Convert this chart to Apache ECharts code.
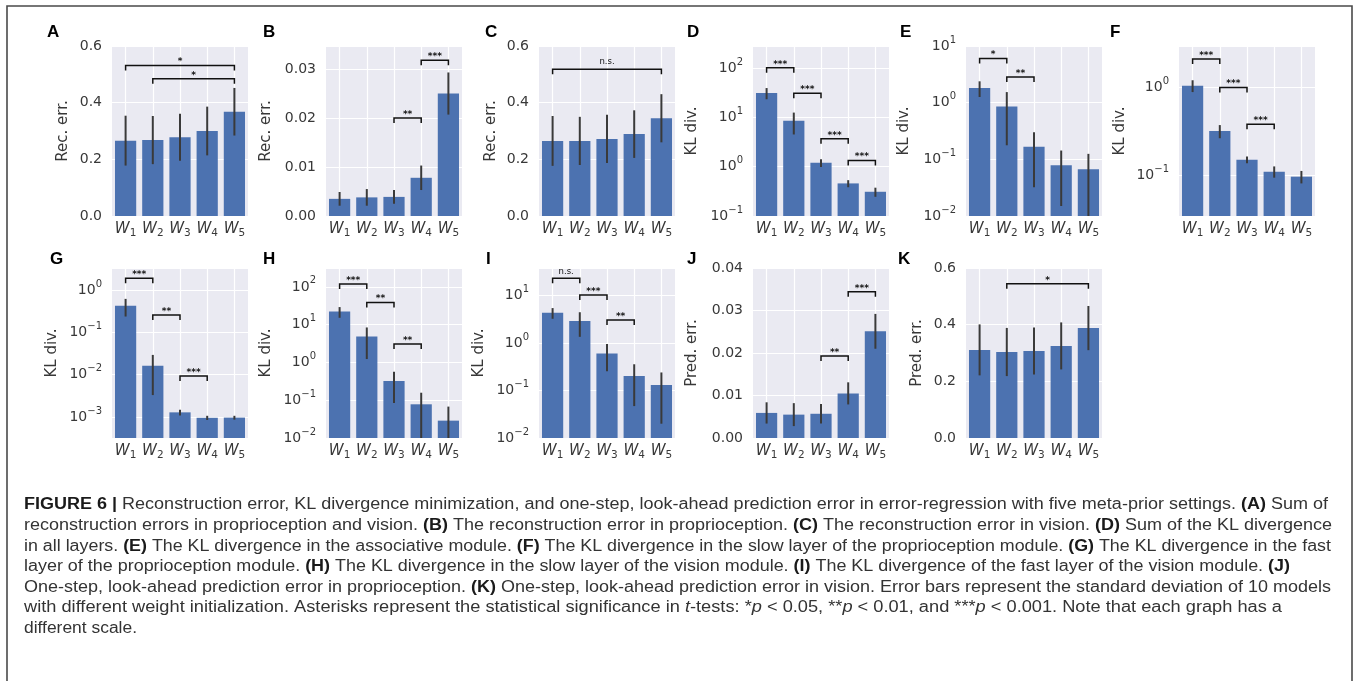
<!DOCTYPE html>
<html><head><meta charset="utf-8">
<script src="https://cdn.jsdelivr.net/npm/echarts@6/dist/echarts.min.js"></script>
<style>html,body{margin:0;padding:0;background:#fff}#c{width:1360px;height:681px}</style>
</head><body><div id="c"></div>
<script>
// ---------------- data ----------------
const categories = ['W1', 'W2', 'W3', 'W4', 'W5'];

const recErrAllMean  = [0.266, 0.268, 0.278, 0.300, 0.368];
const recErrAllSd    = [0.088, 0.085, 0.083, 0.086, 0.084];
const recErrPropMean = [0.0035, 0.0038, 0.0039, 0.0078, 0.0250];
const recErrPropSd   = [0.0014, 0.0017, 0.0014, 0.0025, 0.0043];
const recErrVisMean  = [0.265, 0.265, 0.272, 0.289, 0.345];
const recErrVisSd    = [0.088, 0.085, 0.085, 0.084, 0.085];
const klAllMean      = [31.3, 8.5, 1.2, 0.458, 0.31];
const klAllSd        = [8, 4, 0.22, 0.075, 0.065];
const klAssocMean    = [1.82, 0.857, 0.167, 0.079, 0.067];
const klAssocSd      = [0.56, 0.68, 0.135, 0.064, 0.058];
const klPropSlowMean = [1.04, 0.316, 0.149, 0.109, 0.0955];
const klPropSlowSd   = [0.16, 0.054, 0.013, 0.016, 0.0155];
const klPropFastMean = [0.426, 0.0163, 0.00129, 0.00096, 0.00097];
const klPropFastSd   = [0.19, 0.013, 0.0002, 0.00011, 0.0001];
const klVisSlowMean  = [22.2, 4.83, 0.324, 0.078, 0.0288];
const klVisSlowSd    = [7, 3.6, 0.24, 0.08, 0.039];
const klVisFastMean  = [4.34, 2.9, 0.605, 0.202, 0.13];
const klVisFastSd    = [1.1, 1.55, 0.35, 0.155, 0.11];
const predErrPropMean = [0.0059, 0.0055, 0.0057, 0.0105, 0.0251];
const predErrPropSd   = [0.0025, 0.0027, 0.0023, 0.0026, 0.0041];
const predErrVisMean  = [0.311, 0.3035, 0.307, 0.325, 0.388];
const predErrVisSd    = [0.09, 0.085, 0.083, 0.083, 0.078];

// significance brackets: [from index, to index, label, bracket level]
const sigA = [[0, 4, '*', 0.531], [1, 4, '*', 0.484]];
const sigB = [[2, 3, '**', 0.0200], [3, 4, '***', 0.0318]];
const sigC = [[0, 4, 'n.s.', 0.518]];
const sigD = [[0, 1, '***', 101], [1, 2, '***', 30.8], [2, 3, '***', 3.70], [3, 4, '***', 1.33]];
const sigE = [[0, 1, '*', 6.0], [1, 2, '**', 2.85]];
const sigF = [[0, 1, '***', 2.10], [1, 2, '***', 0.99], [2, 3, '***', 0.377]];
const sigG = [[0, 1, '***', 1.89], [1, 2, '**', 0.257], [2, 3, '***', 0.0093]];
const sigH = [[0, 1, '***', 120], [1, 2, '**', 38.4], [2, 3, '**', 3.09]];
const sigI = [[0, 1, 'n.s.', 23], [1, 2, '***', 10.3], [2, 3, '**', 3.05]];
const sigJ = [[2, 3, '**', 0.0193], [3, 4, '***', 0.0344]];
const sigK = [[1, 4, '*', 0.544]];

const linearTickLabelsA = ['0.0', '0.2', '0.4', '0.6'];

// ---------------- layout ----------------
const colLeft = [112, 326, 539, 753, 966, 1179];
const rowTop = [46, 268];
const PW = 136, PH = 170;

const panels = [
  {letter: 'A', lx: 47,  col: 0, row: 0, mean: recErrAllMean, sd: recErrAllSd, sig: sigA, log: false, min: 0, max: 0.6, interval: 0.2, dec: 1, name: 'Rec. err.', gap: 41},
  {letter: 'B', lx: 263, col: 1, row: 0, mean: recErrPropMean, sd: recErrPropSd, sig: sigB, log: false, min: 0, max: 0.0347, interval: 0.01, dec: 2, name: 'Rec. err.', gap: 52},
  {letter: 'C', lx: 485, col: 2, row: 0, mean: recErrVisMean, sd: recErrVisSd, sig: sigC, log: false, min: 0, max: 0.6, interval: 0.2, dec: 1, name: 'Rec. err.', gap: 40},
  {letter: 'D', lx: 687, col: 3, row: 0, mean: klAllMean, sd: klAllSd, sig: sigD, log: true, min: 0.1, max: 280, name: 'KL div.', gap: 53},
  {letter: 'E', lx: 900, col: 4, row: 0, mean: klAssocMean, sd: klAssocSd, sig: sigE, log: true, min: 0.01, max: 10, name: 'KL div.', gap: 54},
  {letter: 'F', lx: 1110, col: 5, row: 0, mean: klPropSlowMean, sd: klPropSlowSd, sig: sigF, log: true, min: 0.034, max: 2.95, name: 'KL div.', gap: 51},
  {letter: 'G', lx: 50,  col: 0, row: 1, mean: klPropFastMean, sd: klPropFastSd, sig: sigG, log: true, min: 0.00032, max: 3.3, name: 'KL div.', gap: 52},
  {letter: 'H', lx: 263, col: 1, row: 1, mean: klVisSlowMean, sd: klVisSlowSd, sig: sigH, log: true, min: 0.01, max: 316, name: 'KL div.', gap: 52},
  {letter: 'I', lx: 486, col: 2, row: 1, mean: klVisFastMean, sd: klVisFastSd, sig: sigI, log: true, min: 0.01, max: 38, name: 'KL div.', gap: 52},
  {letter: 'J', lx: 687, col: 3, row: 1, mean: predErrPropMean, sd: predErrPropSd, sig: sigJ, log: false, min: 0, max: 0.04, interval: 0.01, dec: 2, name: 'Pred. err.', gap: 53},
  {letter: 'K', lx: 898, col: 4, row: 1, mean: predErrVisMean, sd: predErrVisSd, sig: sigK, log: false, min: 0, max: 0.6, interval: 0.2, dec: 1, name: 'Pred. err.', gap: 41}
];

const UI = 'DejaVu Sans';
const TXT = '#383838';
const BAR = '#4C72B0';
const BG = '#EAEAF2';

const grids = [], xAxes = [], yAxes = [], series = [], graphics = [];

panels.forEach((p, i) => {
  grids.push({left: colLeft[p.col], top: rowTop[p.row], width: PW, height: PH,
    show: true, backgroundColor: BG, borderWidth: 0});
  xAxes.push({
    gridIndex: i, type: 'category', data: categories, boundaryGap: true,
    axisLine: {show: false}, axisTick: {show: false},
    splitLine: {show: true, alignWithLabel: true, lineStyle: {color: '#ffffff', width: 1.2}},
    axisLabel: {
      margin: 3, interval: 0,
      formatter: v => '{w|W}{s|' + v.slice(1) + '}',
      rich: {
        w: {fontStyle: 'italic', fontSize: 15, fontFamily: UI, color: TXT, lineHeight: 20},
        s: {fontSize: 10.5, fontFamily: UI, color: TXT, lineHeight: 12, verticalAlign: 'bottom'}
      }
    }
  });
  const y = {
    gridIndex: i, type: p.log ? 'log' : 'value', min: p.min, max: p.max,
    axisLine: {show: false}, axisTick: {show: false},
    splitLine: {show: true, lineStyle: {color: '#ffffff', width: 1.2}},
    name: p.name, nameLocation: 'middle', nameGap: p.gap,
    nameTextStyle: {fontSize: 15, fontFamily: UI, color: TXT},
    axisLabel: {margin: 10, fontSize: 14, fontFamily: UI, color: TXT}
  };
  if (p.log) {
    y.logBase = 10;
    y.axisLabel.formatter = v => {
      const e = Math.log10(v), r = Math.round(e);
      if (Math.abs(e - r) > 0.02) return '';
      return '{m|10}{p|' + (r < 0 ? '\u2212' + (-r) : r) + '}';
    };
    y.axisLabel.rich = {
      m: {fontSize: 14, fontFamily: UI, color: TXT, lineHeight: 22},
      p: {fontSize: 10, fontFamily: UI, color: TXT, lineHeight: 12, verticalAlign: 'top'}
    };
  } else {
    y.interval = p.interval;
    y.axisLabel.formatter = v => {
      const q = v / p.interval;
      return Math.abs(q - Math.round(q)) < 1e-6 ? v.toFixed(p.dec) : '';
    };
  }
  yAxes.push(y);

  // bars + error bars
  series.push({
    type: 'custom', xAxisIndex: i, yAxisIndex: i, z: 3,
    data: p.mean.map((m, k) => [k, m, p.sd[k]]),
    encode: {x: 0, y: 1},
    renderItem: (params, api) => {
      const k = api.value(0), m = api.value(1), s = api.value(2);
      const top = api.coord([k, m]);
      const base = api.coord([k, p.min]);
      const bw = api.size([1, 0])[0] * 0.78;
      const hi = api.coord([k, Math.min(m + s, p.max)]);
      const lo = api.coord([k, Math.max(m - s, p.min)]);
      return {type: 'group', children: [
        {type: 'rect', shape: {x: top[0] - bw / 2, y: top[1], width: bw, height: base[1] - top[1]},
          style: {fill: BAR}},
        {type: 'line', shape: {x1: hi[0], y1: hi[1], x2: lo[0], y2: lo[1]},
          style: {stroke: '#3a3a3a', lineWidth: 2}}
      ]};
    }
  });

  // significance brackets
  series.push({
    type: 'custom', xAxisIndex: i, yAxisIndex: i, z: 4,
    data: p.sig.map(s => [s[0], s[3], s[1]]),
    encode: {x: 0, y: 1},
    renderItem: (params, api) => {
      const s = p.sig[params.dataIndex];
      const a = api.coord([s[0], s[3]]);
      const b = api.coord([s[1], s[3]]);
      const isNs = s[2] === 'n.s.';
      return {type: 'group', children: [
        {type: 'polyline', shape: {points: [[a[0], a[1] + 5], [a[0], a[1]], [b[0], b[1]], [b[0], b[1] + 5]]},
          style: {stroke: '#111', lineWidth: 1.5, fill: null}},
        {type: 'text', x: (a[0] + b[0]) / 2, y: a[1] - (isNs ? 7 : 3.5),
          style: {text: s[2], fill: '#111', font: (isNs ? '8.5px ' : 'bold 9px ') + UI,
            align: 'center', verticalAlign: 'middle'}}
      ]};
    }
  });

  graphics.push({type: 'text', x: p.lx, y: p.row === 0 ? 32 : 259,
    style: {text: p.letter, font: 'bold 17px "Liberation Sans"', fill: '#000', verticalAlign: 'middle'}});
});

// ---------------- caption ----------------
const captionLines = [
  [['b', 'FIGURE 6 |'], ['n', ' Reconstruction error, KL divergence minimization, and one-step, look-ahead prediction error in error-regression with five meta-prior settings. '], ['b', '(A)'], ['n', ' Sum of']],
  [['n', 'reconstruction errors in proprioception and vision. '], ['b', '(B)'], ['n', ' The reconstruction error in proprioception. '], ['b', '(C)'], ['n', ' The reconstruction error in vision. '], ['b', '(D)'], ['n', ' Sum of the KL divergence']],
  [['n', 'in all layers. '], ['b', '(E)'], ['n', ' The KL divergence in the associative module. '], ['b', '(F)'], ['n', ' The KL divergence in the slow layer of the proprioception module. '], ['b', '(G)'], ['n', ' The KL divergence in the fast']],
  [['n', 'layer of the proprioception module. '], ['b', '(H)'], ['n', ' The KL divergence in the slow layer of the vision module. '], ['b', '(I)'], ['n', ' The KL divergence of the fast layer of the vision module. '], ['b', '(J)']],
  [['n', 'One-step, look-ahead prediction error in proprioception. '], ['b', '(K)'], ['n', ' One-step, look-ahead prediction error in vision. Error bars represent the standard deviation of 10 models']],
  [['n', 'with different weight initialization. Asterisks represent the statistical significance in '], ['i', 't'], ['n', '-tests: *'], ['i', 'p'], ['n', ' < 0.05, **'], ['i', 'p'], ['n', ' < 0.01, and ***'], ['i', 'p'], ['n', ' < 0.001. Note that each graph has a']],
  [['n', 'different scale.']]
];
const captionEnds = [1328, 1332, 1331, 1290, 1331, 1282, 137];
const captionY = [505, 526, 547, 567, 588, 608, 629];
const CAPF = '"Liberation Sans", Arial, sans-serif';
const capStyles = {
  n: {font: 'normal normal 16px ' + CAPF, fill: '#333'},
  b: {font: 'normal bold 16px ' + CAPF, fill: '#1a1a1a'},
  i: {font: 'italic normal 16px ' + CAPF, fill: '#333'}
};
const mctx = document.createElement('canvas').getContext('2d');
const CAPX = 24;
captionLines.forEach((line, li) => {
  let w = 0;
  line.forEach(([st, t]) => { mctx.font = capStyles[st].font; w += mctx.measureText(t).width; });
  const sx = (captionEnds[li] - CAPX) / w;
  graphics.push({
    type: 'text', x: CAPX, y: captionY[li], scaleX: sx,
    style: {
      text: line.map(([st, t]) => '{' + st + '|' + t + '}').join(''),
      rich: {
        n: {fontSize: 16, fontFamily: CAPF, fontWeight: 'normal', fill: '#333'},
        b: {fontSize: 16, fontFamily: CAPF, fontWeight: 'bold', fill: '#1a1a1a'},
        i: {fontSize: 16, fontFamily: CAPF, fontStyle: 'italic', fill: '#333'}
      },
      verticalAlign: 'middle'
    }
  });
});

// frame
graphics.push({type: 'rect', shape: {x: 7, y: 6, width: 1345, height: 700},
  style: {fill: null, stroke: '#4a4a4a', lineWidth: 1.6}, silent: true});

const chart = echarts.init(document.getElementById('c'), null, {renderer: 'canvas'});
chart.setOption({
  animation: false,
  backgroundColor: '#ffffff',
  grid: grids, xAxis: xAxes, yAxis: yAxes, series: series,
  graphic: {elements: graphics}
});
</script>
</body></html>
